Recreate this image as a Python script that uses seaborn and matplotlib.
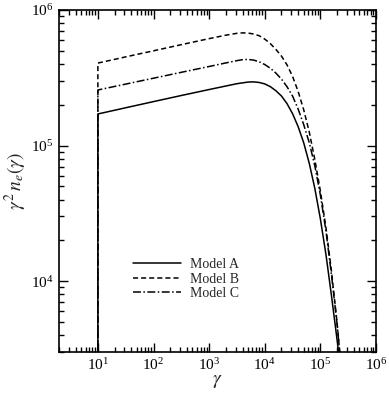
import numpy as np
import pandas as pd
import matplotlib
matplotlib.use("Agg")
import matplotlib.pyplot as plt
import matplotlib.ticker as mticker
import seaborn as sns

# ---- data ----
# (the first entry at gamma = 10 is the zero level below gamma_min, off the axis)
gamma = [10, 10, 31.6, 100, 316, 1000, 2000, 3160, 3980, 5010, 6310, 7940,
         1.0e4, 1.26e4, 1.58e4, 2.0e4, 2.51e4, 3.16e4, 3.98e4, 5.01e4, 6.31e4,
         7.94e4, 1.0e5, 1.26e5, 1.58e5, 2.0e5, 2.29e5]
model_A = [1.0, 1.71e5, 1.90e5, 2.11e5, 2.34e5, 2.59e5, 2.75e5, 2.86e5, 2.90e5,
           2.94e5, 2.95e5, 2.92e5, 2.85e5, 2.72e5, 2.54e5, 2.32e5, 2.04e5,
           1.72e5, 1.38e5, 1.05e5, 7.4e4, 4.84e4, 2.88e4, 1.57e4, 7.85e3, 3.67e3, 2.26e3]
model_B = [1.0, 4.06e5, 4.51e5, 5.00e5, 5.55e5, 6.15e5, 6.52e5, 6.73e5, 6.78e5,
           6.76e5, 6.65e5, 6.46e5, 6.10e5, 5.65e5, 5.13e5, 4.57e5, 3.94e5,
           3.24e5, 2.51e5, 1.84e5, 1.26e5, 7.9e4, 4.62e4, 2.48e4, 1.19e4, 4.9e3, 2.63e3]
model_C = [1.0, 2.57e5, 2.84e5, 3.14e5, 3.47e5, 3.83e5, 4.07e5, 4.23e5, 4.30e5,
           4.32e5, 4.27e5, 4.15e5, 3.96e5, 3.72e5, 3.43e5, 3.09e5, 2.72e5,
           2.32e5, 1.86e5, 1.43e5, 1.05e5, 7.1e4, 4.32e4, 2.34e4, 1.12e4, 4.8e3, 2.63e3]

labels = ["Model A", "Model B", "Model C"]

# ---- style ----
sns.set_style("ticks")
plt.rcParams["font.family"] = ["Liberation Serif", "DejaVu Serif"]
plt.rcParams["mathtext.fontset"] = "stix"

fig = plt.figure(figsize=(3.89, 3.94), dpi=100)
ax = fig.add_axes([59 / 389, 1 - 352 / 394, 317 / 389, 342 / 394])

lw = 1.1
dash_styles = [None, (3.3, 2.0), (5.2, 1.6, 1.0, 1.6)]

for v, lab, ds in zip([model_A, model_B, model_C], labels, dash_styles):
    df = pd.DataFrame({"gamma": gamma, "val": v})
    sns.lineplot(data=df, x="gamma", y="val", ax=ax, estimator=None, sort=False,
                 label=lab, color="black", linewidth=lw)
    if ds is not None:
        ax.get_lines()[-1].set_dashes(ds)

ax.set_xscale("log")
ax.set_yscale("log")
ax.set_xlim(2, 1e6)
ax.set_ylim(3e3, 1e6)

ax.xaxis.set_major_locator(mticker.LogLocator(base=10, numticks=20))
ax.yaxis.set_major_locator(mticker.LogLocator(base=10, numticks=20))
ax.xaxis.set_minor_locator(mticker.LogLocator(base=10, subs=np.arange(2, 10), numticks=40))
ax.yaxis.set_minor_locator(mticker.LogLocator(base=10, subs=np.arange(2, 10), numticks=40))
ax.xaxis.set_minor_formatter(mticker.NullFormatter())
ax.yaxis.set_minor_formatter(mticker.NullFormatter())

ax.tick_params(which="both", direction="in", top=True, right=True, colors="black",
               labelsize=11, width=1.0)
ax.tick_params(which="major", length=6.5, pad=4)
ax.tick_params(which="minor", length=3.5)
for s in ax.spines.values():
    s.set_linewidth(1.2)
    s.set_color("black")

ax.set_xlabel(r"$\gamma$", fontsize=14, labelpad=0)
ax.set_ylabel(r"$\gamma^{2}\,n_{e}(\gamma)$", fontsize=14, labelpad=1)

leg = ax.legend(loc="center left", bbox_to_anchor=(0.233, 0.213), frameon=False,
                fontsize=10, handlelength=3.5, handletextpad=0.6, labelspacing=0.1,
                borderpad=0, borderaxespad=0)
for h, ds in zip(leg.get_lines(), dash_styles):
    if ds is not None:
        h.set_dashes(ds)
    h.set_linewidth(lw)

fig.savefig("out.png", dpi=100)
